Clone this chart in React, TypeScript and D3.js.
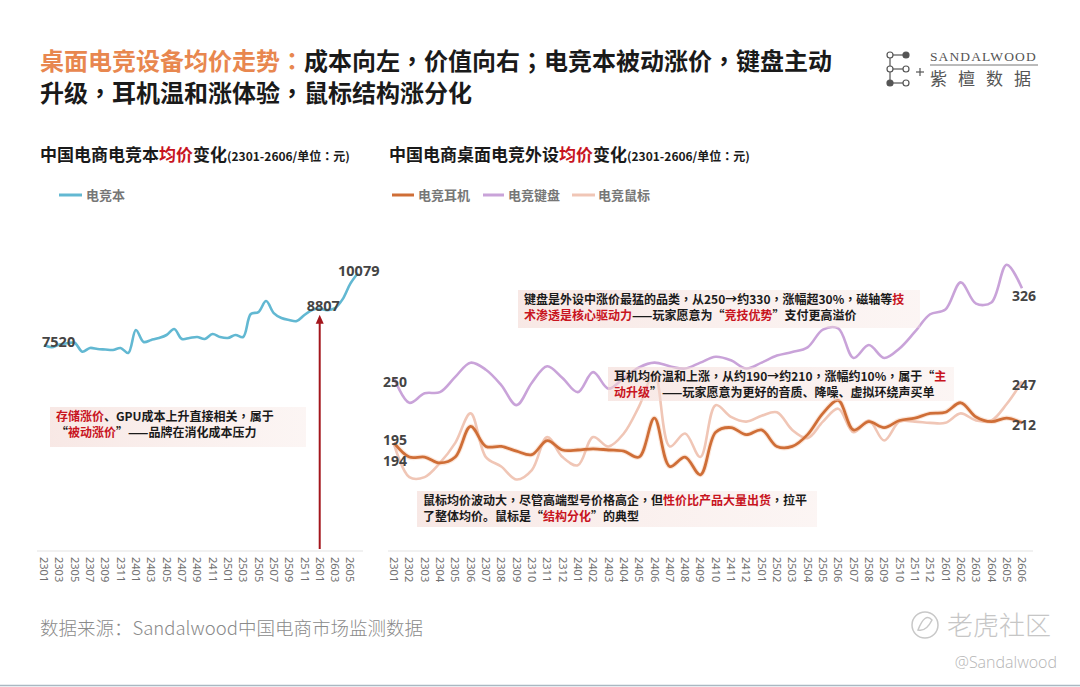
import * as d3 from 'd3'

const months = [
  '2301', '2302', '2303', '2304', '2305', '2306', '2307', '2308', '2309', '2310', '2311', '2312',
  '2401', '2402', '2403', '2404', '2405', '2406', '2407', '2408', '2409', '2410', '2411', '2412',
  '2501', '2502', '2503', '2504', '2505', '2506', '2507', '2508', '2509', '2510', '2511', '2512',
  '2601', '2602', '2603', '2604', '2605', '2606',
]
const leftTicks = [
  '2301', '2303', '2305', '2307', '2309', '2311', '2401', '2403', '2405', '2407', '2409',
  '2411', '2501', '2503', '2505', '2507', '2509', '2511', '2601', '2603', '2605',
]

// 电竞本 均价（元）
const laptop = [
  7520, 7440, 7540, 7580, 7600, 7280, 7414, 7378, 7360, 7342, 7414, 7236,
  8052, 7627, 7698, 7768, 7875, 8088, 7733, 7768, 7804, 7733, 7910, 7804,
  7768, 7875, 7804, 8620, 8690, 9082, 8656, 8478, 8408, 8372, 8585, 8762,
  8807, 8760, 8830, 9150, 9700, 10079,
]
// 外设 均价（元）
const headset = [
  195, 183, 183, 178, 183, 209, 192, 192, 188, 185, 197, 189,
  189, 190, 189, 188, 183, 216, 175, 183, 168, 204, 208, 202,
  206, 192, 192, 202, 220, 231, 206, 213, 208, 214, 216, 220,
  221, 229, 217, 213, 216, 212,
]
const keyboard = [
  250, 229, 237, 238, 251, 263, 257, 244, 227, 246, 260, 250,
  238, 255, 241, 250, 259, 263, 260, 258, 263, 268, 265, 258,
  263, 269, 272, 276, 291, 292, 267, 278, 267, 275, 289, 304,
  308, 331, 313, 314, 346, 326,
]
const mouse = [
  194, 166, 166, 178, 195, 220, 183, 175, 164, 172, 200, 183,
  176, 200, 192, 203, 226, 254, 192, 203, 183, 227, 217, 213,
  218, 221, 206, 199, 213, 224, 204, 214, 197, 213, 213, 212,
  212, 220, 214, 214, 228, 247,
]

const CJK = '"Noto Sans CJK SC", "Noto Sans", sans-serif'
const CJK_PUNCT = '"Noto Sans CJK TC", "Noto Sans CJK SC", sans-serif'
const NUM_FONT = '"Noto Sans", "Open Sans", sans-serif'
const RED = '#c8141e'
const INK = '#1a1a1a'
const NUM = '#444'
const C_LAPTOP = '#62b8d2'
const C_HEAD = '#cf6e37'
const C_KEY = '#c9a3d9'
const C_MOUSE = '#f0c6b6'

// full-width punctuation drawn centred, as in the reference
function punct(text: string, fill: string, key: string | number) {
  return text.split(/([，：；])/).filter(Boolean).map((p, i) =>
    /^[，：；]$/.test(p) ? (
      <tspan key={`${key}-${i}`} fontFamily={CJK_PUNCT} fill={fill}>{p}</tspan>
    ) : (
      <tspan key={`${key}-${i}`} fill={fill}>{p}</tspan>
    ),
  )
}

type Seg = { t: string; red?: boolean }

function Note({ x, y, w, h, lines }: { x: number; y: number; w: number; h: number; lines: Seg[][] }) {
  return (
    <g>
      <rect x={x} y={y} width={w} height={h} fill="url(#noteFill)" />
      {lines.map((line, i) => (
        <text key={i} x={x + 6} y={y + 14 + i * 16} fontSize={12} fontWeight={700} fontFamily={CJK} fill={INK}>
          {line.map((s, j) => punct(s.t, s.red ? RED : INK, j))}
        </text>
      ))}
    </g>
  )
}

export default function App() {
  const xL = d3.scalePoint<string>().domain(months).range([44, 358])
  const yL = d3.scaleLinear().domain([7000, 10500]).range([359.6, 261.2])
  const xR = d3.scalePoint<string>().domain(months).range([394, 1022])
  const yR = d3.scaleLinear().domain([150, 350]).range([496, 260])

  const curve = d3.curveCatmullRom.alpha(0.5)
  const lineL = d3.line<number>().x((_, i) => xL(months[i])!).y(d => yL(d)).curve(curve)
  const lineR = d3.line<number>().x((_, i) => xR(months[i])!).y(d => yR(d)).curve(curve)

  const last = months.length - 1
  const axisY = 551
  const arrowX = xL('2601')!

  return (
    <svg width={1080} height={687} style={{ position: 'absolute', left: 0, top: 0, background: '#fff' }}>
      <defs>
        <linearGradient id="noteFill" x1="0" x2="1" y1="0" y2="0">
          <stop offset="0" stopColor="#f3d9d4" stopOpacity={0.6} />
          <stop offset="1" stopColor="#f6e3df" stopOpacity={0.35} />
        </linearGradient>
      </defs>
      <rect width={1080} height={687} fill="#fff" />

      {/* title */}
      <text x={40} y={70} fontSize={24} fontWeight={700} fontFamily={CJK} fill={INK}>
        {punct('桌面电竞设备均价走势：', '#e8874f', 'a')}
        {punct('成本向左，价值向右；电竞本被动涨价，键盘主动', INK, 'b')}
      </text>
      <text x={40} y={102} fontSize={24} fontWeight={700} fontFamily={CJK} fill={INK}>
        {punct('升级，耳机温和涨体验，鼠标结构涨分化', INK, 'c')}
      </text>

      {/* logo */}
      <g stroke="#555" strokeWidth={1.2} fill="#fff">
        <line x1={890} y1={55} x2={890} y2={83} />
        <line x1={890} y1={55} x2={906} y2={55} />
        <line x1={890} y1={69} x2={906} y2={69} />
        <line x1={890} y1={83} x2={906} y2={83} />
        <circle cx={890} cy={55} r={3} />
        <circle cx={906} cy={55} r={3} fill="#555" />
        <circle cx={890} cy={69} r={3} />
        <circle cx={906} cy={69} r={3} />
        <circle cx={890} cy={83} r={3} fill="#555" />
        <circle cx={906} cy={83} r={3} />
        <line x1={916} y1={72} x2={924} y2={72} />
        <line x1={920} y1={68} x2={920} y2={76} />
      </g>
      <text x={930} y={61} fontSize={13.5} fontFamily='"Liberation Serif", serif' fill="#555" letterSpacing={1.1}>
        SANDALWOOD
      </text>
      <line x1={930} y1={65} x2={1038} y2={65} stroke="#777" strokeWidth={1} />
      <text x={930} y={85} fontSize={17} fontFamily={CJK} fill="#555" letterSpacing={11}>
        紫檀数据
      </text>

      {/* subtitles */}
      <text x={40} y={161} fontSize={17} fontWeight={700} fontFamily={CJK} fill={INK}>
        <tspan>中国电商电竞本</tspan>
        <tspan fill={RED}>均价</tspan>
        <tspan>变化</tspan>
        <tspan fontSize={12}>(2301-2606/单位</tspan>
        <tspan fontSize={12} fontFamily={CJK_PUNCT}>：</tspan>
        <tspan fontSize={12}>元)</tspan>
      </text>
      <text x={389} y={161} fontSize={17} fontWeight={700} fontFamily={CJK} fill={INK}>
        <tspan>中国电商桌面电竞外设</tspan>
        <tspan fill={RED}>均价</tspan>
        <tspan>变化</tspan>
        <tspan fontSize={12}>(2301-2606/单位</tspan>
        <tspan fontSize={12} fontFamily={CJK_PUNCT}>：</tspan>
        <tspan fontSize={12}>元)</tspan>
      </text>

      {/* legends */}
      <g fontSize={13} fontWeight={700} fontFamily={CJK} fill="#777">
        <line x1={59} x2={82} y1={195} y2={195} stroke={C_LAPTOP} strokeWidth={3} />
        <text x={86} y={200}>电竞本</text>
        <line x1={392} x2={414} y1={195} y2={195} stroke={C_HEAD} strokeWidth={3} />
        <text x={418} y={200}>电竞耳机</text>
        <line x1={483} x2={504} y1={195} y2={195} stroke={C_KEY} strokeWidth={3} />
        <text x={508} y={200}>电竞键盘</text>
        <line x1={572} x2={595} y1={195} y2={195} stroke={C_MOUSE} strokeWidth={3} />
        <text x={598} y={200}>电竞鼠标</text>
      </g>

      {/* axes */}
      <line x1={37} x2={363} y1={axisY} y2={axisY} stroke="#e3e3e3" strokeWidth={1} />
      <line x1={388} x2={1033} y1={axisY} y2={axisY} stroke="#e3e3e3" strokeWidth={1} />
      <g fontSize={11} fontFamily='"Noto Sans", "DejaVu Sans", sans-serif' fill="#707070">
        {leftTicks.map(m => (
          <text key={'l' + m} transform={`translate(${xL(m)},557) rotate(90)`} dy="0.35em">{m}</text>
        ))}
        {months.map(m => (
          <text key={'r' + m} transform={`translate(${xR(m)},557) rotate(90)`} dy="0.35em">{m}</text>
        ))}
      </g>

      {/* left chart */}
      <path d={lineL(laptop)!} fill="none" stroke={C_LAPTOP} strokeWidth={2.6} strokeLinejoin="round" />
      <g fontSize={14.5} fontWeight={700} fontFamily={NUM_FONT} fill={NUM}>
        <text x={xL(months[0])! - 2} y={yL(laptop[0]) + 2}>{laptop[0]}</text>
        <text x={arrowX - 13} y={yL(laptop[36]) + 2}>{laptop[36]}</text>
        <text x={xL(months[last])! - 20} y={yL(laptop[last]) + 3}>{laptop[last]}</text>
      </g>
      <line x1={arrowX} x2={arrowX} y1={axisY - 2} y2={yL(laptop[36]) + 14} stroke="#a3161c" strokeWidth={2} />
      <path
        d={`M${arrowX - 4},${yL(laptop[36]) + 15} L${arrowX},${yL(laptop[36]) + 6} L${arrowX + 4},${yL(laptop[36]) + 15} Z`}
        fill="#a3161c"
      />
      <Note
        x={50}
        y={407}
        w={256}
        h={40}
        lines={[
          [{ t: '存储涨价', red: true }, { t: '、GPU成本上升直接相关，属于' }],
          [{ t: '“' }, { t: '被动涨价', red: true }, { t: '”——品牌在消化成本压力' }],
        ]}
      />

      {/* right chart */}
      <path d={lineR(mouse)!} fill="none" stroke={C_MOUSE} strokeWidth={2.6} strokeLinejoin="round" />
      <path d={lineR(keyboard)!} fill="none" stroke={C_KEY} strokeWidth={2.6} strokeLinejoin="round" />
      <path d={lineR(headset)!} fill="none" stroke="#f3b894" strokeWidth={5} strokeOpacity={0.35} strokeLinejoin="round" />
      <path d={lineR(headset)!} fill="none" stroke={C_HEAD} strokeWidth={2.8} strokeLinejoin="round" />

      <Note
        x={518}
        y={290}
        w={402}
        h={38}
        lines={[
          [{ t: '键盘是外设中涨价最猛的品类，从250→约330，涨幅超30%，磁轴等' }, { t: '技', red: true }],
          [
            { t: '术渗透是核心驱动力', red: true },
            { t: '——玩家愿意为“' },
            { t: '竞技优势', red: true },
            { t: '”支付更高溢价' },
          ],
        ]}
      />
      <Note
        x={608}
        y={367}
        w={346}
        h={34}
        lines={[
          [{ t: '耳机均价温和上涨，从约190→约210，涨幅约10%，属于“' }, { t: '主', red: true }],
          [{ t: '动升级', red: true }, { t: '”——玩家愿意为更好的音质、降噪、虚拟环绕声买单' }],
        ]}
      />
      <Note
        x={417}
        y={491}
        w={400}
        h={36}
        lines={[
          [{ t: '鼠标均价波动大，尽管高端型号价格高企，但' }, { t: '性价比产品大量出货', red: true }, { t: '，拉平' }],
          [{ t: '了整体均价。鼠标是“' }, { t: '结构分化', red: true }, { t: '”的典型' }],
        ]}
      />

      <g fontSize={14} fontWeight={700} fontFamily={NUM_FONT} fill={NUM}>
        <text x={xR(months[0])! - 11} y={yR(keyboard[0]) + 9}>{keyboard[0]}</text>
        <text x={xR(months[0])! - 11} y={yR(headset[0]) + 2}>{headset[0]}</text>
        <text x={xR(months[0])! - 11} y={yR(mouse[0]) + 22}>{mouse[0]}</text>
        <text x={xR(months[last])! - 10} y={yR(keyboard[last]) + 13}>{keyboard[last]}</text>
        <text x={xR(months[last])! - 10} y={yR(mouse[last]) + 8}>{mouse[last]}</text>
        <text x={xR(months[last])! - 10} y={yR(headset[last]) + 7}>{headset[last]}</text>
      </g>

      {/* footer */}
      <text x={40} y={635} fontSize={18.5} fontWeight={300} fontFamily={CJK} fill="#8a8a8a">
        数据来源：Sandalwood中国电商市场监测数据
      </text>
      <circle cx={925} cy={625} r={13} fill="none" stroke="#c8c8c8" strokeWidth={1.5} />
      <path d="M918,630 Q925,612 932,620 Q926,632 918,630 Z" fill="none" stroke="#c8c8c8" strokeWidth={1.5} />
      <text x={947} y={635} fontSize={26} fontWeight={300} fontFamily={CJK} fill="#c6c6c6">
        老虎社区
      </text>
      <text x={1057} y={668} textAnchor="end" fontSize={16} fontWeight={300} fontFamily='"Open Sans", "Noto Sans", sans-serif' fill="#b5b5b5">
        @Sandalwood
      </text>
      <line x1={0} x2={1080} y1={685.5} y2={685.5} stroke="#a9b8c2" strokeWidth={1.5} />
    </svg>
  )
}
